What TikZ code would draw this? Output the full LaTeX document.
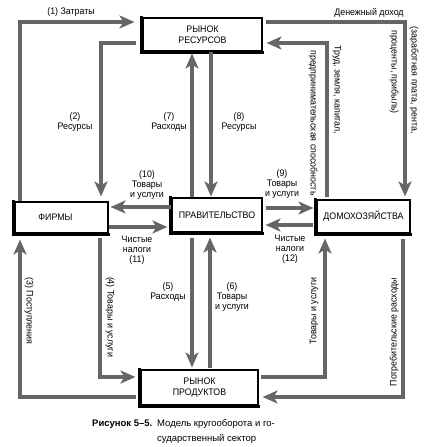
\documentclass[tikz,border=0pt]{standalone}
\usepackage{fontspec}
\setmainfont{Liberation Sans}[FakeStretch=0.93]
\newfontfamily\capfont{Liberation Sans}
\usetikzlibrary{arrows.meta}
\definecolor{flowc}{gray}{0.40}
\begin{document}
\begin{tikzpicture}[x=1pt,y=-1pt,
  flow/.style={line width=3.4pt, draw=flowc, -{Stealth[length=15pt,width=13pt,inset=4pt]}},
  box/.style={draw, line width=1.1pt, fill=white, inner sep=0pt, align=center, font=\fontsize{9.5}{10.5}\selectfont},
  shadowline/.style={line width=2.4pt, line cap=rect},
  lab/.style={font=\fontsize{9.5}{9.8}\selectfont, align=center, inner sep=0pt},
  captxt/.style={inner sep=0pt, font=\capfont\fontsize{9.5}{15}\selectfont},
]
\useasboundingbox (0,0) rectangle (425,447);
\fill[white] (0,0) rectangle (425,447);

% boxes
\node[box, minimum width=119pt, minimum height=33pt] (rm) at (202.5,34.5) {РЫНОК\\РЕСУРСОВ};
\node[box, minimum width=93pt, minimum height=31pt] (firms) at (61.5,217.5) {ФИРМЫ\hspace*{12pt}};
\node[box, minimum width=90pt, minimum height=34pt] (gov) at (217,215) {ПРАВИТЕЛЬСТВО};
\node[box, minimum width=93pt, minimum height=33pt] (hh) at (363.5,216.5) {ДОМОХОЗЯЙСТВА};
\node[box, minimum width=117pt, minimum height=35pt] (pm) at (199.5,387.5) {РЫНОК\\ПРОДУКТОВ};
\foreach \n in {rm,firms,gov,hh,pm}
  \draw[shadowline] ([xshift=-0.8pt]\n.north west) -- ([xshift=-0.8pt,yshift=-0.8pt]\n.south west) -- ([yshift=-0.8pt]\n.south east);

% flows
\draw[flow, shorten >=8pt] (firms.north -| 20,0) |- (rm.west |- 0,22);
\draw[flow, shorten <=6pt, shorten >=5pt] (rm.west |- 0,43) -| (firms.north -| 101,0);
\draw[flow, shorten >=2pt] (gov.north -| 192,0) -- (rm.south -| 192,0);
\draw[flow, shorten >=1pt] (rm.south -| 211,0) -- (gov.north -| 211,0);
\draw[flow, shorten <=3pt, shorten >=3pt] (rm.east |- 0,22) -| (hh.north -| 405,0);
\draw[flow, shorten <=2pt, shorten >=4pt] (hh.north -| 327,0) |- (rm.east |- 0,43);
\draw[flow, shorten >=2pt] (gov.west |- 0,207) -- (firms.east |- 0,207);
\draw[flow, shorten >=4pt] (firms.east |- 0,227) -- (gov.west |- 0,227);
\draw[flow, shorten <=3pt, shorten >=3pt] (gov.east |- 0,208) -- (hh.west |- 0,208);
\draw[flow, shorten <=3pt, shorten >=3pt] (hh.west |- 0,225) -- (gov.east |- 0,225);
\draw[flow, shorten <=4pt, shorten >=6pt] (pm.west |- 0,397) -| (firms.south -| 20,0);
\draw[flow, shorten <=4pt, shorten >=5pt] (firms.south -| 100,0) |- (pm.west |- 0,377);
\draw[flow, shorten <=5pt, shorten >=2pt] (gov.south -| 192,0) -- (pm.north -| 192,0);
\draw[flow, shorten <=1pt, shorten >=5pt] (pm.north -| 210,0) -- (gov.south -| 210,0);
\draw[flow, shorten <=2pt, shorten >=5pt] (pm.east |- 0,377) -| (hh.south -| 325,0);
\draw[flow, shorten <=5pt, shorten >=4pt] (hh.south -| 403,0) |- (pm.east |- 0,397);

% labels
\node[lab] (l1) at (71,12) {(1) Затраты};
\node[lab] (l2) at (75,122) {(2)\\Ресурсы};
\node[lab] (l7) at (169,122) {(7)\\Расходы};
\node[lab] (l8) at (239,122) {(8)\\Ресурсы};
\node[lab] (ld) at (369,13) {Денежный доход};
\node[lab, rotate=-90] (ldA) at (414,80) {(заработная плата, рента,};
\node[lab, rotate=-90] (ldB) at (394,72) {проценты, прибыль)};
\node[lab, rotate=-90] (ltA) at (337,90) {Труд, земля, капитал,};
\node[lab, rotate=-90] (ltB) at (313,123) {предпринимательская способность};
\node[lab] (l10) at (147,185) {(10)\\Товары\\и услуги};
\node[lab] (l9) at (282,184) {(9)\\Товары\\и услуги};
\node[lab] (l11) at (137,250) {Чистые\\налоги\\(11)};
\node[lab] (l12) at (290,249) {Чистые\\налоги\\(12)};
\node[lab] (l5) at (168,292) {(5)\\Расходы};
\node[lab] (l6) at (232,297) {(6)\\Товары\\и услуги};
\node[lab, rotate=-90] (l3) at (29,311) {(3) Поступления};
\node[lab, rotate=-90] (l4) at (110,317) {(4) Товары и услуги};
\node[lab, rotate=90] (lhg) at (314,311) {Товары и услуги};
\node[lab, rotate=90] (lcs) at (394,332) {Потребительские расходы};

% caption
\node[captxt, anchor=base west, font=\capfont\fontsize{9.5}{15}\selectfont\bfseries] (capA) at (92,426) {Рисунок 5–5.};
\node[captxt, anchor=base west] (capB1) at (157,426) {Модель кругооборота и го-};
\node[captxt, anchor=base west] (capB2) at (157,441) {сударственный сектор};
\end{tikzpicture}
\end{document}
